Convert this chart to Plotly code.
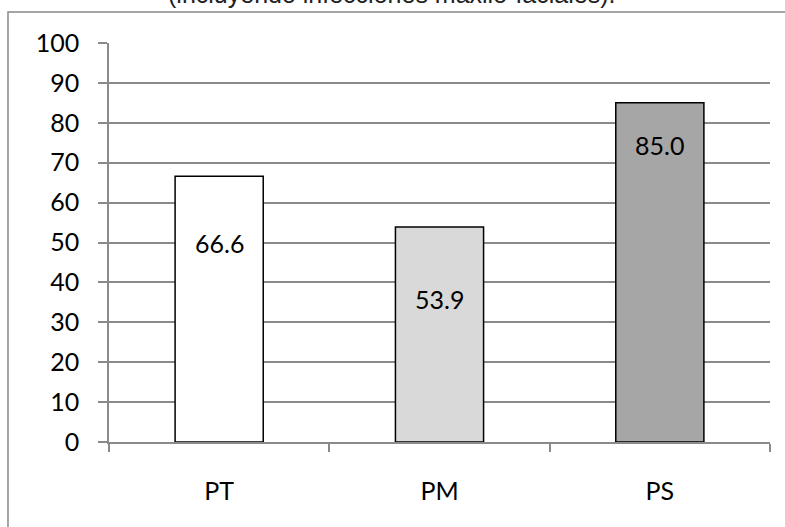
import plotly.graph_objects as go

categories = ["PT", "PM", "PS"]
values = [66.6, 53.9, 85.0]
label_text = ["66.6", "53.9", "85.0"]
label_drop = [16.7, 18.1, 10.6]  # distance of labels below bar tops (value units)
bar_colors = ["#ffffff", "#d9d9d9", "#a6a6a6"]
y_ticks = [0, 10, 20, 30, 40, 50, 60, 70, 80, 90, 100]
title_text = "(incluyendo infecciones maxilo-faciales)."

FONT = "Lato, Calibri, Carlito, sans-serif"
GRID = "#8a8a8a"

fig = go.Figure()
fig.add_trace(go.Bar(
    x=categories, y=values, width=0.4,
    marker=dict(color=bar_colors, line=dict(color="#000000", width=1.5)),
    hoverinfo="skip",
))

for c, v, t, d in zip(categories, values, label_text, label_drop):
    fig.add_annotation(x=c, y=v - d, xref="x", yref="y", text=t, showarrow=False,
                       font=dict(family=FONT, size=25, color="#000000"),
                       xanchor="center", yanchor="middle")

# title, cut off at the top edge as in the reference
fig.add_annotation(x=0.428, y=1.0835, xref="paper", yref="paper", text=title_text,
                   showarrow=False, xanchor="center", yanchor="bottom",
                   font=dict(family="Liberation Sans, Arial, sans-serif", size=25, color="#222222"))

# outer chart border
fig.add_shape(type="rect", xref="paper", yref="paper",
              x0=-0.1528, x1=1.10, y0=-0.25, y1=1.0777,
              line=dict(color="#888888", width=1.5), fillcolor="rgba(0,0,0,0)")

fig.update_layout(
    width=785, height=527,
    margin=dict(l=109, r=15, t=43, b=85),
    paper_bgcolor="#ffffff", plot_bgcolor="#ffffff",
    showlegend=False,
    bargap=0.6,
)
fig.update_xaxes(
    type="category", tickson="boundaries", ticks="outside", ticklen=8,
    tickcolor=GRID, tickwidth=1.5,
    showline=True, linecolor=GRID, linewidth=1.5,
    showgrid=False,
    tickfont=dict(family=FONT, size=25, color="#000000"),
    ticklabelstandoff=26,
)
fig.update_yaxes(
    range=[0, 100], tickvals=y_ticks, ticktext=[str(v) for v in y_ticks],
    ticks="outside", ticklen=9, tickcolor=GRID, tickwidth=1.5,
    showline=True, linecolor=GRID, linewidth=1.5,
    showgrid=True, gridcolor=GRID, gridwidth=1.5,
    zeroline=False,
    tickfont=dict(family=FONT, size=25, color="#000000"),
    ticklabelstandoff=14,
)

fig.write_html("out.html", config={"displayModeBar": False},
               post_script="document.body.style.margin='0px';")
